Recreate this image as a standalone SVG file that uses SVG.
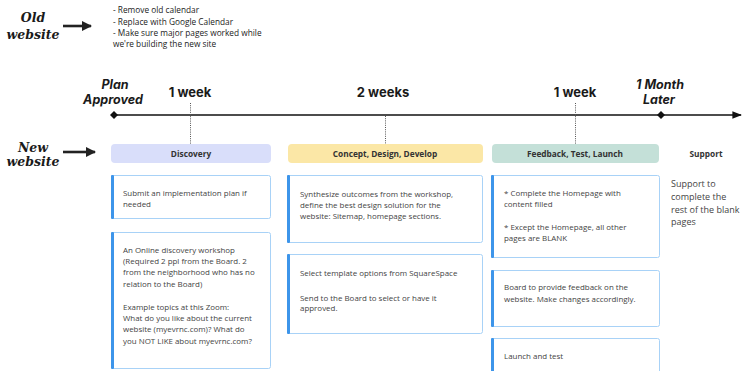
<svg xmlns="http://www.w3.org/2000/svg" width="743" height="371" viewBox="0 0 743 371">
<defs>
<style>
.lbl{font-family:"DejaVu Serif",serif;font-weight:bold;font-style:italic;font-size:12.5px;fill:#1a1a1a;text-anchor:middle}
.note{font-family:"Open Sans","Noto Sans",sans-serif;font-size:8.3px;fill:#222}
.ms{font-family:Inter,"Liberation Sans",sans-serif;font-weight:bold;font-style:italic;font-size:12.5px;fill:#1a1a1a;text-anchor:middle}
.dur{font-family:Inter,"Liberation Sans",sans-serif;font-weight:bold;font-size:13px;fill:#1a1a1a;text-anchor:middle}
.hdr{font-family:"Open Sans","Noto Sans",sans-serif;font-weight:bold;font-size:8.3px;fill:#333;text-anchor:middle}
.ct{font-family:"Open Sans","Noto Sans",sans-serif;font-size:7.95px;fill:#444}
.st{font-family:"Open Sans","Noto Sans",sans-serif;font-size:9px;fill:#444}
.card{fill:#fff;stroke:#a8d2f7;stroke-width:1}
.bar{fill:#3d95ea}
.dot{stroke:#555;stroke-width:1;stroke-dasharray:1,1.2;fill:none}
.arr{stroke:#222;stroke-width:2.6;fill:none}
</style>
<marker id="ah" viewBox="0 0 10 10" refX="9" refY="5" markerWidth="4" markerHeight="4" orient="auto"><path d="M0,0L10,5L0,10z" fill="#222"/></marker>
<marker id="ah2" viewBox="0 0 10 10" refX="9" refY="5" markerWidth="6" markerHeight="6" orient="auto"><path d="M0,1L10,5L0,9z" fill="#111"/></marker>
</defs>

<g id="old-website">
<text class="lbl" x="33" y="22">Old</text>
<text class="lbl" x="33" y="39">website</text>
</g>
<g id="old-notes">
<text class="note" x="113" y="13">- Remove old calendar</text>
<text class="note" x="113" y="24.5">- Replace with Google Calendar</text>
<text class="note" x="113" y="36">- Make sure major pages worked while</text>
<text class="note" x="113" y="47">we're building the new site</text>
</g>
<g id="new-website">
<text class="lbl" x="33" y="152">New</text>
<text class="lbl" x="33" y="166">website</text>
</g>

<g id="milestones">
<text class="ms" x="115" y="89">Plan</text>
<text class="ms" x="113" y="104">Approved</text>
<text class="ms" x="660" y="89">1 Month</text>
<text class="ms" x="659" y="104">Later</text>
<text class="dur" x="190" y="97">1 week</text>
<text class="dur" x="383" y="97">2 weeks</text>
<text class="dur" x="575" y="97">1 week</text>
</g>

<g id="connectors">
<line class="arr" x1="63" y1="26" x2="91" y2="26" marker-end="url(#ah)"/>
<line class="arr" x1="63" y1="152" x2="95" y2="152" marker-end="url(#ah)"/>
<line x1="114" y1="115" x2="741" y2="115" stroke="#111" stroke-width="1.6" marker-end="url(#ah2)"/>
<path d="M114,111L118,115L114,119L110,115z" fill="#111"/>
<path d="M661,111L665,115L661,119L657,115z" fill="#111"/>
<line class="dot" x1="190.5" y1="103" x2="190.5" y2="144"/>
<line class="dot" x1="385.5" y1="116" x2="385.5" y2="144"/>
<line class="dot" x1="575.5" y1="103" x2="575.5" y2="144"/>
</g>

<g id="discovery">
<rect x="111" y="144" width="160" height="19" rx="4" fill="#d9defa"/>
<text class="hdr" x="191" y="156.5">Discovery</text>
</g>
<g id="concept">
<rect x="288" y="144" width="195" height="19" rx="4" fill="#fbe7a6"/>
<text class="hdr" x="385" y="156.5">Concept, Design, Develop</text>
</g>
<g id="feedback">
<rect x="492" y="144" width="167" height="19" rx="4" fill="#c4e0d8"/>
<text class="hdr" x="575" y="156.5">Feedback, Test, Launch</text>
</g>
<g id="support">
<text class="hdr" x="706" y="156.5">Support</text>
<text class="st" x="671" y="187">Support to</text>
<text class="st" x="671" y="200">complete the</text>
<text class="st" x="671" y="212.5">rest of the blank</text>
<text class="st" x="671" y="225">pages</text>
</g>

<g id="card-d1">
<rect class="card" x="111.5" y="175.5" width="159" height="43" rx="2"/>
<rect class="bar" x="111" y="175" width="3" height="44" rx="1"/>
<text class="ct" x="123" y="196">Submit an implementation plan if</text>
<text class="ct" x="123" y="207">needed</text>
</g>
<g id="card-d2">
<rect class="card" x="111.5" y="232.5" width="159" height="136" rx="2"/>
<rect class="bar" x="111" y="232" width="3" height="137" rx="1"/>
<text class="ct" x="123" y="253">An Online discovery workshop</text>
<text class="ct" x="123" y="264">(Required 2 ppl from the Board. 2</text>
<text class="ct" x="123" y="275">from the neighborhood who has no</text>
<text class="ct" x="123" y="286.5">relation to the Board)</text>
<text class="ct" x="123" y="310">Example topics at this Zoom:</text>
<text class="ct" x="123" y="321">What do you like about the current</text>
<text class="ct" x="123" y="332">website (myevrnc.com)? What do</text>
<text class="ct" x="123" y="343.5">you NOT LIKE about myevrnc.com?</text>
</g>

<g id="card-c1">
<rect class="card" x="287.5" y="175.5" width="195" height="67" rx="2"/>
<rect class="bar" x="287" y="175" width="3" height="68" rx="1"/>
<text class="ct" x="300" y="197">Synthesize outcomes from the workshop,</text>
<text class="ct" x="300" y="208">define the best design solution for the</text>
<text class="ct" x="300" y="219">website: Sitemap, homepage sections.</text>
</g>
<g id="card-c2">
<rect class="card" x="287.5" y="254.5" width="195" height="79" rx="2"/>
<rect class="bar" x="287" y="254" width="3" height="80" rx="1"/>
<text class="ct" x="300" y="276">Select template options from SquareSpace</text>
<text class="ct" x="300" y="300.5">Send to the Board to select or have it</text>
<text class="ct" x="300" y="311">approved.</text>
</g>

<g id="card-f1">
<rect class="card" x="491.5" y="175.5" width="168" height="82" rx="2"/>
<rect class="bar" x="491" y="175" width="3" height="83" rx="1"/>
<text class="ct" x="504" y="196">* Complete the Homepage with</text>
<text class="ct" x="504" y="207">content filled</text>
<text class="ct" x="504" y="230">* Except the Homepage, all other</text>
<text class="ct" x="504" y="241">pages are BLANK</text>
</g>
<g id="card-f2">
<rect class="card" x="491.5" y="270.5" width="168" height="56" rx="2"/>
<rect class="bar" x="491" y="270" width="3" height="57" rx="1"/>
<text class="ct" x="504" y="290">Board to provide feedback on the</text>
<text class="ct" x="504" y="302">website. Make changes accordingly.</text>
</g>
<g id="card-f3">
<rect class="card" x="491.5" y="338.5" width="168" height="40" rx="2"/>
<rect class="bar" x="491" y="338" width="3" height="40" rx="1"/>
<text class="ct" x="504" y="359">Launch and test</text>
</g>
</svg>
